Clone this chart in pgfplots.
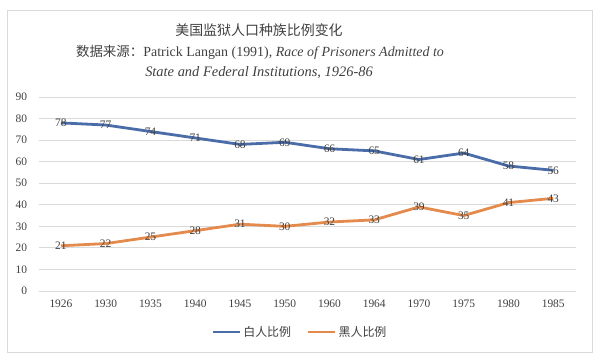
\documentclass[border=0pt]{standalone}
\usepackage{pgfplots}
\pgfplotsset{compat=1.18}
\usepackage{fontspec}
\setmainfont{Liberation Serif}
\newfontfamily\cjk{Noto Sans CJK SC}
\definecolor{wblue}{HTML}{4A6CA8}
\definecolor{borange}{HTML}{E38A4C}
\definecolor{gridc}{HTML}{D9D9D9}
\definecolor{txt}{HTML}{404040}
\begin{document}
\begin{tikzpicture}[x=1bp,y=1bp]
\path[use as bounding box] (0,0) rectangle (600,362);
\draw[gridc, line width=0.8bp] (7,10) rectangle (592,352);
\node[font=\cjk\fontsize{14}{16}\selectfont, text=txt] at (259,332) {美国监狱人口种族比例变化};
\node[font=\fontsize{14}{16}\selectfont, text=txt] at (260,310) {{\cjk\fontsize{13.5}{16}\selectfont 数据来源：}Patrick Langan (1991), \textit{Race of Prisoners Admitted to}};
\node[font=\fontsize{14.5}{16}\selectfont, text=txt] at (259,289) {\textit{State and Federal Institutions, 1926-86}};
\begin{axis}[
  at={(38.6bp,71bp)}, anchor=south west,
  scale only axis, width=537bp, height=194bp,
  xmin=-0.5, xmax=11.5, ymin=0, ymax=90,
  xtick={0,...,11},
  xticklabels={1926,1930,1935,1940,1945,1950,1960,1964,1970,1975,1980,1985},
  ytick={0,10,...,90},
  ymajorgrids, grid style={gridc, line width=0.8bp},
  axis line style={draw=none},
  major tick length=0pt,
  tick label style={font=\fontsize{11.5}{13}\selectfont, text=txt},
  /pgf/number format/assume math mode=true,
  yticklabel style={xshift=-8bp},
  xticklabel style={yshift=-5bp},
  nodes near coords,
  every node near coord/.append style={anchor=center, font=\fontsize{11.5}{13}\selectfont, text=txt},
  legend style={at={(0.487,-0.16)}, anchor=north, draw=none, legend columns=2,
    font=\cjk\fontsize{12}{14}\selectfont, text=txt,
    /tikz/every even column/.append style={column sep=14bp}},
  legend image code/.code={\draw[#1, line width=2.5bp] (0bp,0bp) -- (27bp,0bp);},
]
\addplot[wblue, line width=2.8bp, mark=none] coordinates {
(0,78) (1,77) (2,74) (3,71) (4,68) (5,69) (6,66) (7,65) (8,61) (9,64) (10,58) (11,56)};
\addlegendentry{白人比例}
\addplot[borange, line width=2.8bp, mark=none] coordinates {
(0,21) (1,22) (2,25) (3,28) (4,31) (5,30) (6,32) (7,33) (8,39) (9,35) (10,41) (11,43)};
\addlegendentry{黑人比例}
\end{axis}
\end{tikzpicture}
\end{document}
